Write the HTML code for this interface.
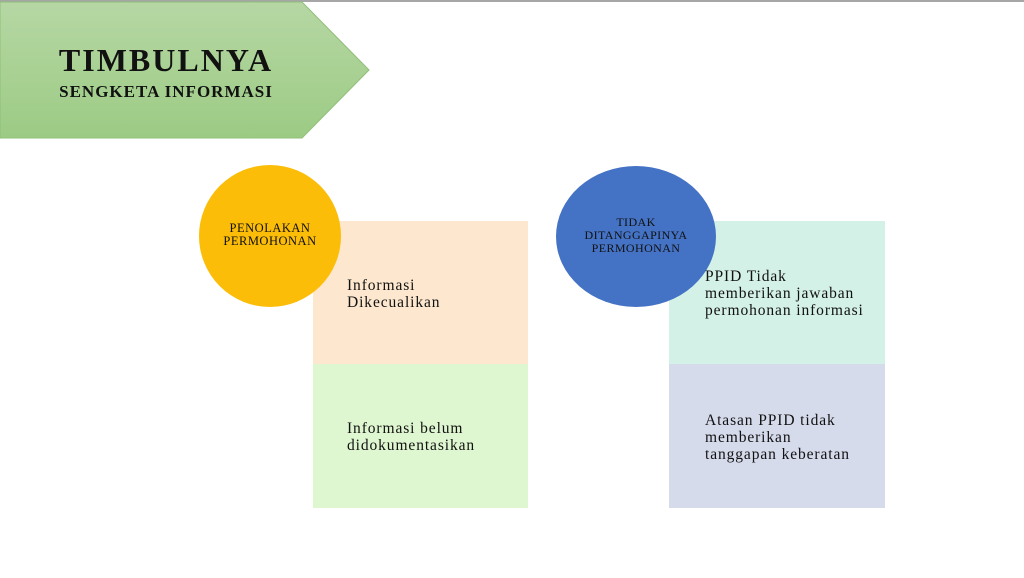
<!DOCTYPE html>
<html><head><style>
body{margin:0;width:1024px;height:578px;background:#fff;position:relative;overflow:hidden;font-family:"Liberation Serif",serif;color:#111}
div{position:absolute;box-sizing:border-box}
.t{font-size:15.5px;line-height:17px;letter-spacing:0.9px}
</style></head><body>
<div style="left:0;top:0;width:1024px;height:2px;background:#a6a6a6"></div>
<svg style="position:absolute;left:0;top:0" width="380" height="145">
<defs><linearGradient id="g" x1="0" y1="0" x2="0" y2="1"><stop offset="0" stop-color="#b6d7a4"/><stop offset="1" stop-color="#9ccb84"/></linearGradient></defs>
<polygon points="0,2 302,2 369,70 302,138 0,138" fill="url(#g)" stroke="#8fbf78" stroke-width="1"/>
</svg>
<div style="left:0;top:42px;width:332px;text-align:center;font-weight:bold;font-size:32px;letter-spacing:2px">TIMBULNYA</div>
<div style="left:0;top:82px;width:332px;text-align:center;font-weight:bold;font-size:17px;letter-spacing:1px">SENGKETA INFORMASI</div>

<div style="left:313px;top:221px;width:215px;height:143px;background:#fde8cf"></div>
<div style="left:313px;top:364px;width:215px;height:144px;background:#dff7d0"></div>
<div style="left:669px;top:221px;width:216px;height:143px;background:#d4f1e8"></div>
<div style="left:669px;top:364px;width:216px;height:144px;background:#d6dbec"></div>

<div style="left:199px;top:165px;width:142px;height:142px;border-radius:50%;background:#fbbd08"></div>
<div style="left:199px;top:222px;width:142px;text-align:center;font-size:12.5px;line-height:13px;letter-spacing:0.5px">PENOLAKAN<br>PERMOHONAN</div>
<div style="left:556px;top:166px;width:160px;height:141px;border-radius:50%;background:#4472c4"></div>
<div style="left:556px;top:216px;width:160px;text-align:center;font-size:12px;line-height:13px;letter-spacing:0.4px">TIDAK<br>DITANGGAPINYA<br>PERMOHONAN</div>

<div class="t" style="left:347px;top:277px">Informasi<br>Dikecualikan</div>
<div class="t" style="left:347px;top:420px">Informasi belum<br>didokumentasikan</div>
<div class="t" style="left:705px;top:268px">PPID Tidak<br>memberikan jawaban<br>permohonan informasi</div>
<div class="t" style="left:705px;top:412px">Atasan PPID tidak<br>memberikan<br>tanggapan keberatan</div>
</body></html>
